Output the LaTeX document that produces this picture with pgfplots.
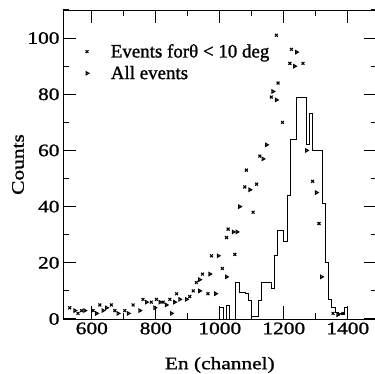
\documentclass[border=0pt]{standalone}
\usepackage{fontspec}
\setmainfont{Liberation Serif}[FakeStretch=1.22,FakeBold=1.2]
\newfontfamily\legfont{Liberation Serif}[FakeBold=1.2]
\usepackage{pgfplots}
\pgfplotsset{compat=1.18}
\pgfplotsset{frame/.style={at={(0,0)}, anchor=south west,
  scale only axis, width=313.6bp, height=309bp,
  xmin=510, xmax=1490, ymin=0, ymax=110}}
\begin{document}
\begin{tikzpicture}
\begin{axis}[frame,
  xtick=\empty, ytick=\empty,
  legend style={at={(axis description cs:0.062,0.903)}, anchor=north west,
    draw=none, fill=none, column sep=20bp, row sep=3bp,
    font=\legfont\fontsize{19}{19}\selectfont},
  legend cell align=left,
]
\addplot[only marks, mark=x, mark size=2pt, line width=1.1pt, black] coordinates {
(1177,101) (1224,96) (1219,91) (1260,91) (1182,84) (1161,79) (1196,70)
(1125,58) (1083,53) (1078,47) (1115,48) (1104,38) (1021,29) (1026,32)
(1047,23) (974,22.5) (1008,18) (946,16) (927,13) (917,10) (963,9) (906,8)
(865,9) (844,7) (823,6) (802,7) (786,6) (760,7) (729,5) (703,3) (672,3)
(661,5) (625,5) (604,3) (568,3) (531,4) (557,2) (1290,49) (1310,34)
(1354,2) (1385,2)};
\addlegendentry{Events forθ < 10 deg}
\addplot[only marks, mark=triangle, mark size=1.8pt, line width=1.1pt, black,
  mark options={rotate=-90}] coordinates {
(1240,95) (1234,90) (1166,81) (1177,78) (1146,62) (1135,57) (1094,46)
(1062,40) (1042,31) (1054,31) (995,22.5) (1021,15) (969,16) (937,14)
(937,10) (987,9) (896,7) (875,7) (859,6) (833,5) (849,2) (813,6) (797,4)
(771,6) (750,3) (714,2) (682,2) (646,4) (635,3) (615,2) (578,3) (547,3)
(1271,60) (1302,45) (1318,15) (1369,1.5)};
\addlegendentry{All events}
\addplot[const plot, black, line width=0.9pt, forget plot] coordinates {
(990,0) (1000,4) (1010,0) (1020,5) (1030,0) (1050,13) (1060,9.5) (1070,9.5)
(1080,9) (1090,6.5) (1100,1) (1120,6.5) (1130,13) (1160,11) (1170,22.5)
(1180,31.5) (1200,27.5) (1210,44) (1220,64) (1240,79) (1270,62) (1280,73)
(1290,60) (1320,41) (1330,20) (1340,7) (1350,4) (1360,2.5) (1370,2)
(1380,1.5) (1390,4) (1400,0) (1480,0)};
\end{axis}
\begin{axis}[frame,
  xtick={600,800,1000,1200,1400}, minor xtick={500,700,...,1500},
  ytick={0,20,...,100}, minor ytick={10,30,...,110},
  tick align=inside,
  major tick length=13bp, minor tick length=6bp,
  tick style={black, line width=1.1pt},
  ticklabel style={font=\fontsize{17.6}{17.6}\selectfont},
  /pgf/number format/assume math mode=true,
  /pgf/number format/1000 sep={},
  xlabel={En (channel)},
  ylabel={Counts},
  label style={font=\fontsize{17.6}{17.6}\selectfont},
  xlabel style={at={(axis description cs:0.5,-0.1489)}, anchor=center},
  ylabel style={at={(axis description cs:-0.1435,0.5)}, anchor=center},
]
\addplot[draw=none, forget plot] coordinates {(600,0) (1200,0)};
\end{axis}
\pgfresetboundingbox
\path (-63bp,-55bp) rectangle (312bp,319bp);
\end{tikzpicture}
\end{document}
